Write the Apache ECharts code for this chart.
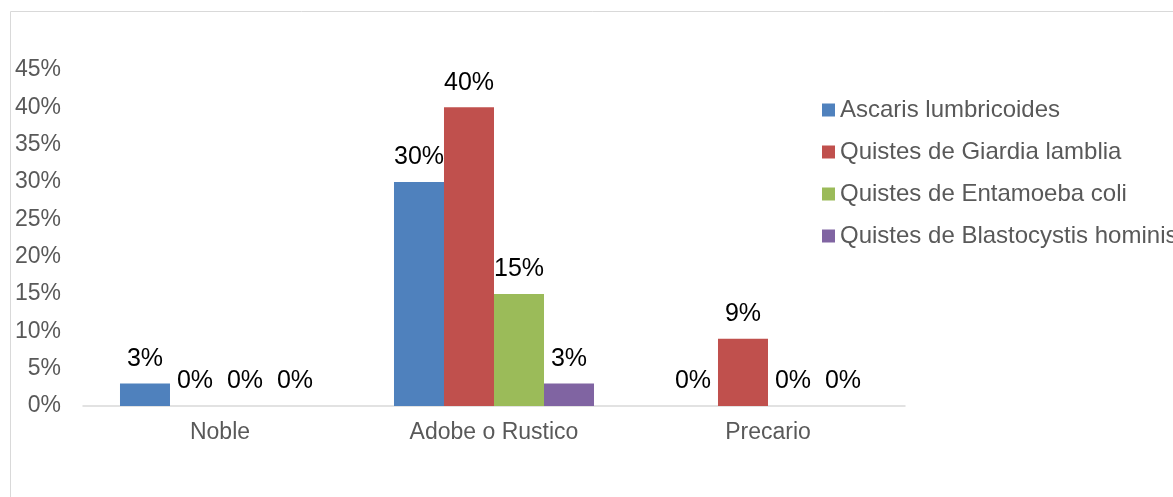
<!DOCTYPE html>
<html>
<head>
<meta charset="utf-8">
<script src="https://cdn.jsdelivr.net/npm/echarts@6/dist/echarts.min.js"></script>
<style>
  html, body { margin: 0; padding: 0; background: #fff; }
  #chart { width: 1173px; height: 497px; }
</style>
</head>
<body>
<div id="chart"></div>
<script>
const categories = ['Noble', 'Adobe o Rustico', 'Precario'];
const seriesNames = [
  'Ascaris lumbricoides',
  'Quistes de Giardia lamblia',
  'Quistes de Entamoeba coli',
  'Quistes de Blastocystis hominis'
];
const ascaris = [3, 30, 0];
const giardia = [0, 40, 9];
const entamoeba = [0, 15, 0];
const blastocystis = [0, 3, 0];
const colors = ['#4F81BD', '#C0504D', '#9BBB59', '#8064A2'];

const font = '"Liberation Sans", Arial, sans-serif';
const chart = echarts.init(document.getElementById('chart'));

const makeSeries = (name, data, color) => ({
  name,
  type: 'bar',
  data,
  barGap: '0%',
  barCategoryGap: '27%',
  itemStyle: { color },
  label: {
    show: true,
    position: 'top',
    distance: 12,
    formatter: '{c}%',
    color: '#000',
    fontSize: 25,
    fontFamily: font
  }
});

chart.setOption({
  animation: false,
  textStyle: { fontFamily: font },
  graphic: [{
    type: 'rect',
    shape: { x: 10.5, y: 11.5, width: 2000, height: 2000 },
    style: { fill: 'none', stroke: '#D9D9D9', lineWidth: 1 }
  }],
  legend: {
    orient: 'vertical',
    left: 817,
    top: 93,
    itemWidth: 13,
    itemHeight: 13,
    itemGap: 18,
    icon: 'rect',
    textStyle: { color: '#595959', fontSize: 24, fontFamily: font },
    data: seriesNames
  },
  grid: { left: 83, right: 268, top: 70, bottom: 91 },
  xAxis: {
    type: 'category',
    data: categories,
    axisLine: { lineStyle: { color: '#D9D9D9', width: 1.5 } },
    axisTick: { show: false },
    axisLabel: { color: '#595959', fontSize: 23, margin: 15, fontFamily: font }
  },
  yAxis: {
    type: 'value',
    min: 0,
    max: 45,
    interval: 5,
    splitLine: { show: false },
    axisLine: { show: false },
    axisTick: { show: false },
    axisLabel: { color: '#595959', fontSize: 23, margin: 22, formatter: '{value}%', fontFamily: font }
  },
  series: [
    makeSeries(seriesNames[0], ascaris, colors[0]),
    makeSeries(seriesNames[1], giardia, colors[1]),
    makeSeries(seriesNames[2], entamoeba, colors[2]),
    makeSeries(seriesNames[3], blastocystis, colors[3])
  ]
});

window.addEventListener('resize', () => chart.resize());
</script>
</body>
</html>
